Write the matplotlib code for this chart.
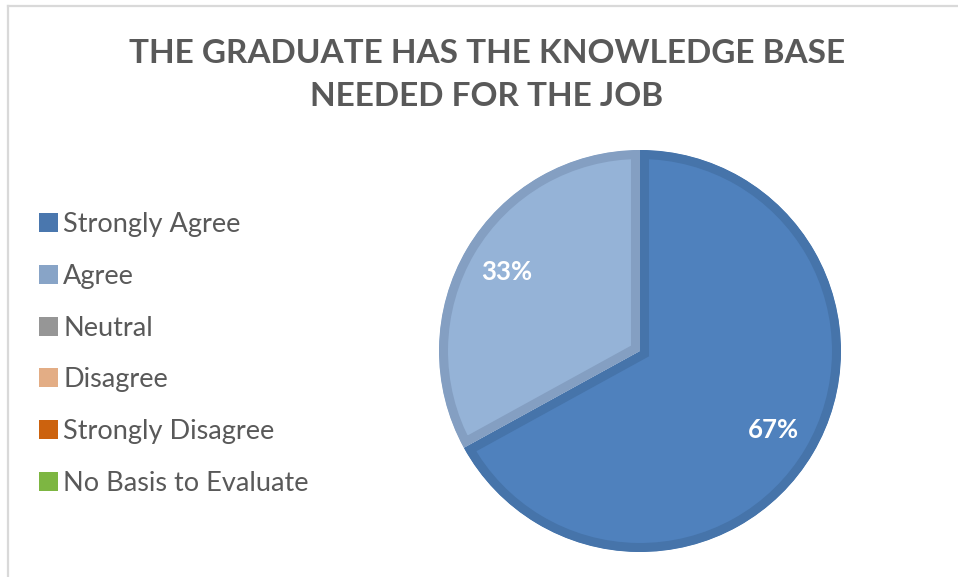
import matplotlib
matplotlib.use("Agg")
import matplotlib.pyplot as plt
from matplotlib.patches import Patch
from matplotlib.lines import Line2D

title = "THE GRADUATE HAS THE KNOWLEDGE BASE\nNEEDED FOR THE JOB"
categories = ["Strongly Agree", "Agree", "Neutral", "Disagree",
              "Strongly Disagree", "No Basis to Evaluate"]
values = [67, 33, 0, 0, 0, 0]
fill_colors = ["#4F81BD", "#95B3D7", "#A5A5A5", "#F2B68C", "#D9650F", "#85C04A"]
edge_colors = ["#4674AA", "#849FC2", "#949494", "#DBA57E", "#C35B0E", "#78AD43"]
legend_colors = ["#4A77AE", "#88A4C7", "#969696", "#E3AD85", "#CC620E", "#7DB642"]

W, H = 958, 577
fig = plt.figure(figsize=(W / 100, H / 100), dpi=100)
fig.patch.set_facecolor("white")

# chart frame (top and left visible)
fig.add_artist(Line2D([8 / W, 1], [1 - 5.5 / H, 1 - 5.5 / H], color="#D9D9D9", lw=1.6))
fig.add_artist(Line2D([8 / W, 8 / W], [0, 1 - 5.5 / H], color="#D9D9D9", lw=1.6))

# pie
cx, cy, r = 640, 351, 201
ax = fig.add_axes([(cx - r) / W, (H - cy - r) / H, 2 * r / W, 2 * r / H])
wedges, texts, autotexts = ax.pie(
    values, colors=fill_colors, startangle=90, counterclock=False,
    autopct=lambda p: f"{p:.0f}%" if p > 0.5 else "",
    pctdistance=0.77, radius=1.0,
    textprops=dict(color="white", fontsize=18.5, fontweight="bold", family="Lato"),
)
for w, ec in zip(wedges, edge_colors):
    w.set_edgecolor(ec)
    w.set_linewidth(13)
    w.set_clip_on(True)
    w.set_clip_path(w)
ax.set_xlim(-1, 1)
ax.set_ylim(-1, 1)
ax.set_aspect("equal")
ax.axis("off")

# title
fig.text(487 / W, 1 - 75 / H, title, ha="center", va="center",
         fontsize=24, fontweight="bold", color="#595959", family="Lato",
         linespacing=1.6)

# legend
handles = [Patch(facecolor=c, edgecolor="none") for c in legend_colors]
leg = fig.legend(handles, categories, loc="center left",
                 bbox_to_anchor=(39 / W, 1 - 354 / H), frameon=False,
                 handlelength=0.7, handleheight=0.7,
                 handletextpad=0.2, labelspacing=0.99,
                 borderpad=0, borderaxespad=0,
                 prop=dict(family="Lato", size=19.5))
for t in leg.get_texts():
    t.set_color("#595959")

fig.savefig("out.png", dpi=100, facecolor="white")
